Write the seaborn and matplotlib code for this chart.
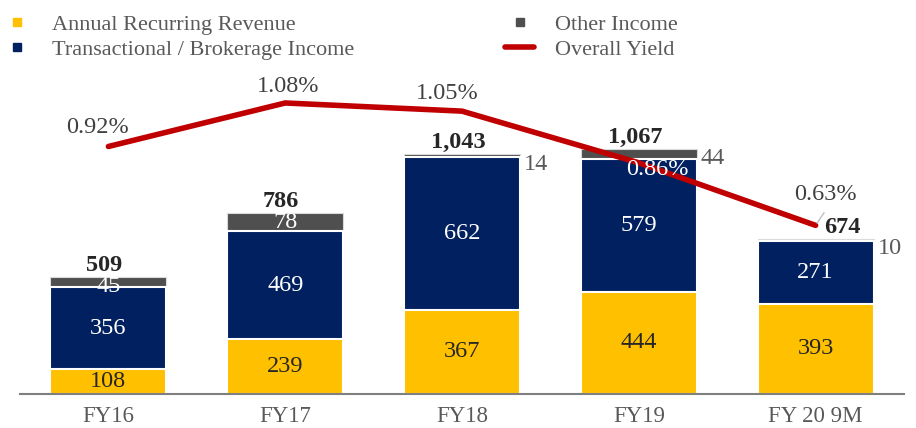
import numpy as np
import pandas as pd
import matplotlib.pyplot as plt
import seaborn as sns
from matplotlib.lines import Line2D

periods = ["FY16", "FY17", "FY18", "FY19", "FY 20 9M"]
arr_rev = [108, 239, 367, 444, 393]
trans_inc = [356, 469, 662, 579, 271]
other_inc = [45, 78, 14, 44, 10]
yield_pct = [0.92, 1.08, 1.05, 0.86, 0.63]

df = pd.DataFrame({"period": periods, "arr": arr_rev, "trans": trans_inc,
                   "other": other_inc, "yield": yield_pct})
df["mid"] = df["arr"] + df["trans"]
df["total"] = df["mid"] + df["other"]

YELLOW = "#FFC000"
NAVY = "#002060"
GREY = "#4F4F4F"
RED = "#C00000"
TXT = "#262626"
LBL = "#595959"

sns.set_style("white")
plt.rcParams["font.family"] = ["Liberation Serif", "DejaVu Serif"]

fig = plt.figure(figsize=(9.16, 4.28), dpi=100)
ax = fig.add_axes([20 / 916, 34 / 428, 884 / 916, 334 / 428])

# stacked bars drawn as overlays: total, then arr+trans, then arr
bw = 0.655
sns.barplot(data=df, x="period", y="total", color=GREY, width=bw,
            edgecolor="#d9d9d9", linewidth=0.8, saturation=1, ax=ax)
sns.barplot(data=df, x="period", y="mid", color=NAVY, width=bw,
            edgecolor="white", linewidth=1.5, saturation=1, ax=ax)
sns.barplot(data=df, x="period", y="arr", color=YELLOW, width=bw,
            edgecolor="white", linewidth=1.5, saturation=1, ax=ax)

ax.set_ylim(0, 1452)
ax.set_xlim(-0.5, 4.5)
ax.set_xlabel("")
ax.set_ylabel("")
ax.set_yticks([])
for s in ["top", "left", "right"]:
    ax.spines[s].set_visible(False)
ax.spines["bottom"].set_color("#7f7f7f")
ax.spines["bottom"].set_linewidth(1.5)
ax.tick_params(axis="x", length=0, pad=9, labelsize=16.5, labelcolor=LBL)

fs = 17.5
other_inside = [True, True, False, False, False]
for i, r in df.iterrows():
    ax.text(i, r["arr"] / 2, f"{r['arr']}", ha="center", va="center",
            fontsize=fs, color=TXT)
    ax.text(i, r["arr"] + r["trans"] / 2, f"{r['trans']}", ha="center",
            va="center", fontsize=fs, color="white")
    if other_inside[i]:
        ax.annotate(f"{r['other']}", (i, r["mid"] + r["other"] / 2),
                    xytext=(0, -4 if i == 0 else 0), textcoords="offset pixels",
                    ha="center", va="center", fontsize=fs, color="white")
    else:
        ax.annotate(f"{r['other']}", (i + bw / 2, r["total"]),
                    xytext=(4, -10), textcoords="offset pixels",
                    ha="left", va="center", fontsize=fs, color=LBL)
    dx = 27 if i == 4 else -4
    ax.annotate(f"{r['total']:,}", (i, r["total"]), xytext=(dx, 1),
                textcoords="offset pixels", ha="center", va="bottom",
                fontsize=fs, fontweight="bold", color=TXT)

# overall yield on secondary axis
ax2 = ax.twinx()
sns.lineplot(x=np.arange(len(periods)), y=yield_pct, color=RED, lw=4,
             ax=ax2, legend=False)
ax2.set_ylim(0.01, 1.238)
ax2.set_yticks([])
for s in ax2.spines.values():
    s.set_visible(False)

ylab_off = [(-11, 19), (3, 16), (-15, 18), (19, -7), (10, 31)]
for i, v in enumerate(yield_pct):
    col = "white" if i == 3 else "#404040"
    ax2.annotate(f"{v:.2f}%", (i, v), xytext=ylab_off[i],
                 textcoords="offset pixels", ha="center", va="center",
                 fontsize=fs, color=col)
ax2.annotate("", (4, yield_pct[4]), xytext=(10, 15),
             textcoords="offset pixels",
             arrowprops=dict(arrowstyle="-", color="#bfbfbf", lw=1))

handles = [
    Line2D([], [], marker="s", ls="none", color=YELLOW, markersize=5.5),
    Line2D([], [], marker="s", ls="none", color=NAVY, markersize=5.5),
    Line2D([], [], marker="s", ls="none", color=GREY, markersize=5.5),
    Line2D([], [], color=RED, lw=4),
]
labels = ["Annual Recurring Revenue", "Transactional / Brokerage Income",
          "Other Income", "Overall Yield"]
leg = fig.legend(handles, labels, loc="upper left",
                 bbox_to_anchor=(2.5 / 916, 1 - 14 / 428),
                 ncol=2, frameon=False, fontsize=16, handlelength=1.3,
                 handletextpad=0.93, columnspacing=6.8, labelspacing=0.2,
                 borderpad=0, borderaxespad=0)
for t in leg.get_texts():
    t.set_color(LBL)

fig.savefig("out.png", dpi=100)
